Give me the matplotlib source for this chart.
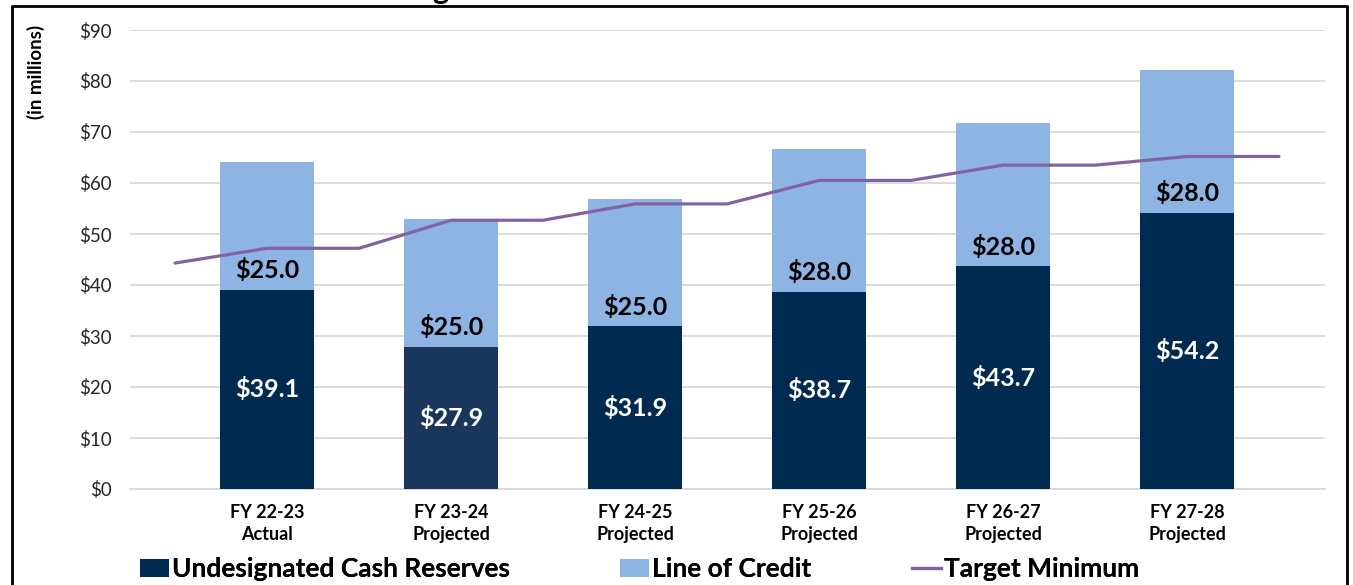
import matplotlib
matplotlib.use("Agg")
import matplotlib.pyplot as plt
import matplotlib.ticker as mticker
import numpy as np
from matplotlib.lines import Line2D
from matplotlib.patches import Patch

# ── data ────────────────────────────────────────────────────────────────
categories = ["FY 22-23\nActual", "FY 23-24\nProjected", "FY 24-25\nProjected",
              "FY 25-26\nProjected", "FY 26-27\nProjected", "FY 27-28\nProjected"]
cash_reserves = [39.1, 27.9, 31.9, 38.7, 43.7, 54.2]
line_of_credit = [25.0, 25.0, 25.0, 28.0, 28.0, 28.0]

# target minimum is plotted at half-category steps
target_x = [-0.5, 0, 0.5, 1, 1.5, 2, 2.5, 3, 3.5, 4, 4.5, 5, 5.5]
target_min = [44.3, 47.2, 47.2, 52.7, 52.7, 55.9, 55.9, 60.5, 60.5, 63.5, 63.5, 65.2, 65.2]

DARK = "#002a50"
DARK_ALT = "#1a365d"
LIGHT = "#8eb4e3"
PURPLE = "#8064a2"
GRID = "#d9d9d9"

plt.rcParams["font.family"] = ["Lato", "DejaVu Sans"]

fig = plt.figure(figsize=(13.53, 5.85), dpi=100, facecolor="white")
ax = fig.add_axes([130 / 1353, 96 / 585, 1195 / 1353, 459 / 585])

x = np.arange(len(categories))
dark_colors = [DARK, DARK_ALT, DARK, DARK, DARK, DARK]
ax.bar(x, cash_reserves, width=0.51, color=dark_colors, zorder=3)
ax.bar(x, line_of_credit, width=0.51, bottom=cash_reserves, color=LIGHT, zorder=3)
ax.plot(target_x, target_min, color=PURPLE, linewidth=2.3, zorder=4,
        solid_capstyle="round")

for xi, c, l in zip(x, cash_reserves, line_of_credit):
    ax.text(xi, c / 2, f"${c:.1f}", ha="center", va="center", color="white",
            fontsize=18, fontweight="bold", zorder=5)
    ax.text(xi, c + 3.8, f"${l:.1f}", ha="center", va="center", color="black",
            fontsize=18, fontweight="bold", zorder=5)

ax.set_xlim(-0.745, 5.75)
ax.set_ylim(0, 90)
ax.yaxis.set_major_locator(mticker.MultipleLocator(10))
ax.yaxis.set_major_formatter(mticker.FuncFormatter(lambda v, _: f"${v:.0f}"))
ax.grid(axis="y", color=GRID, linewidth=1.3, zorder=0)
ax.set_axisbelow(True)
for side in ["top", "right", "left"]:
    ax.spines[side].set_visible(False)
ax.spines["bottom"].set_color(GRID)
ax.spines["bottom"].set_linewidth(1.3)
ax.tick_params(axis="both", length=0)
ax.tick_params(axis="y", labelsize=13.5, labelcolor="#262626", pad=13)
ax.set_xticks(x)
ax.set_xticklabels(categories, fontsize=13, fontweight="bold", linespacing=1.35)
ax.tick_params(axis="x", pad=11)

fig.text(36 / 1353, 1 - 72 / 585, "(in millions)", rotation=90, ha="center",
         va="center", fontsize=13.5, fontweight="bold")

# legend, one entry per block so each sits where the reference has it
legend_items = [
    (Patch(facecolor=DARK, label="Undesignated Cash Reserves"), 140),
    (Patch(facecolor=LIGHT, label="Line of Credit"), 620),
    (Line2D([0], [0], color=PURPLE, linewidth=2.3, label="Target Minimum"), 912),
]
for handle, xpix in legend_items:
    leg = fig.legend(handles=[handle], loc="center left",
                     bbox_to_anchor=(xpix / 1353, 1 - 569 / 585),
                     frameon=False, prop={"size": 19, "weight": "bold"},
                     handlelength=1.1, handleheight=0.7, handletextpad=0.12,
                     borderpad=0, borderaxespad=0)
    fig.add_artist(leg)

# cropped title fragment and outer frame
fig.text(440 / 1353, 1 + 1.5 / 585, "g", ha="center", va="baseline",
         fontsize=22, fontweight="bold")
frame = Line2D([12 / 1353, 12 / 1353, 1347 / 1353, 1347 / 1353],
               [0, 1 - 6 / 585, 1 - 6 / 585, 0], transform=fig.transFigure,
               color="black", linewidth=2)
fig.add_artist(frame)

fig.savefig("out.png", dpi=100, facecolor="white")
